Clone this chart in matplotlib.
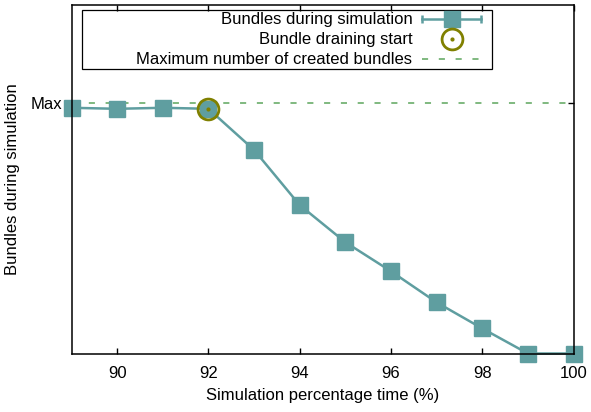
import matplotlib
matplotlib.use("Agg")
import matplotlib.pyplot as plt
from matplotlib.lines import Line2D
from matplotlib.patches import Rectangle
from matplotlib.legend_handler import HandlerLine2D, HandlerTuple

plt.rcParams['font.family'] = ['Liberation Sans', 'DejaVu Sans']

# Simulation progress (%) and bundle count relative to the maximum created
time_pct = [89, 90, 91, 92, 93, 94, 95, 96, 97, 98, 99, 100]
bundles = [0.98, 0.976, 0.98, 0.976, 0.812, 0.592, 0.444, 0.328, 0.204, 0.10, 0.0, 0.0]
drain_start_time = 92
max_bundles = 1.0
x_ticks = [90, 92, 94, 96, 98, 100]

teal = '#5f9ea0'
olive = '#808000'
green = '#5ca55c'
FS = 12

fig = plt.figure(figsize=(5.91, 4.12), dpi=100)
W, H = 591, 412
left, right, top, bottom = 71.5, 573.5, 4.5, 353.5
ax = fig.add_axes([left / W, 1 - bottom / H, (right - left) / W, (bottom - top) / H])

ax.set_xlim(89, 100)
ax.set_ylim(0, 1.392)

# maximum number of created bundles
ax.axhline(max_bundles, color=green, lw=1.1, ls=(0, (4, 7)), zorder=1)

# bundles during simulation
ax.plot(time_pct, bundles, color=teal, lw=1.8, marker='s', ms=11.5,
        clip_on=False, zorder=2)

# start of bundle draining
i = time_pct.index(drain_start_time)
ax.plot([drain_start_time], [bundles[i]], ls='none', marker='o', ms=15,
        mfc='none', mec=olive, mew=2, clip_on=False, zorder=3)
ax.plot([drain_start_time], [bundles[i]], ls='none', marker='o', ms=2,
        color=olive, clip_on=False, zorder=3)

for s in ax.spines.values():
    s.set_linewidth(1.1)
    s.set_zorder(4)

ax.set_xticks(x_ticks)
ax.set_yticks([max_bundles])
ax.set_yticklabels(['Max'])
ax.tick_params(direction='in', length=4, width=1, top=True, right=True,
               labelsize=FS, pad=7)
ax.tick_params(axis='x', pad=9)
ax.set_xlabel('Simulation percentage time (%)', fontsize=FS, labelpad=5)
ax.set_ylabel('Bundles during simulation', fontsize=FS, labelpad=7)

# legend
caps = Line2D([], [], color=teal, lw=1.8, marker='|', ms=6, mew=1.8)
sq = Line2D([], [], ls='none', color=teal, marker='s', ms=11.5)
ring = Line2D([], [], ls='none', marker='o', ms=15, mfc='none', mec=olive, mew=2)
dot = Line2D([], [], ls='none', marker='o', ms=2, color=olive)
dash = Line2D([], [], color=green, lw=1.1, ls=(0, (4, 7)))

ax_w = right - left
ax_h = bottom - top
box_l, box_r, box_t, box_b = 82, 492, 10, 69
ax.add_patch(Rectangle(((box_l - left) / ax_w, (bottom - box_b) / ax_h),
                       (box_r - box_l) / ax_w, (box_b - box_t) / ax_h,
                       transform=ax.transAxes, fill=False, ec='black', lw=0.9,
                       zorder=5, clip_on=False))

leg = ax.legend([(caps, sq), (ring, dot), dash],
                ['Bundles during simulation', 'Bundle draining start',
                 'Maximum number of created bundles'],
                handler_map={caps: HandlerLine2D(numpoints=2, marker_pad=0),
                             tuple: HandlerTuple(ndivide=1, pad=0)},
                markerfirst=False, frameon=False, fontsize=FS,
                handlelength=3.5, handletextpad=0.6, labelspacing=0.3,
                borderpad=0.2, borderaxespad=0,
                loc='upper right',
                bbox_to_anchor=((box_r - 8 - left) / ax_w, (bottom - box_t + 1) / ax_h))
leg.set_zorder(6)

fig.savefig('out.png', dpi=100)
